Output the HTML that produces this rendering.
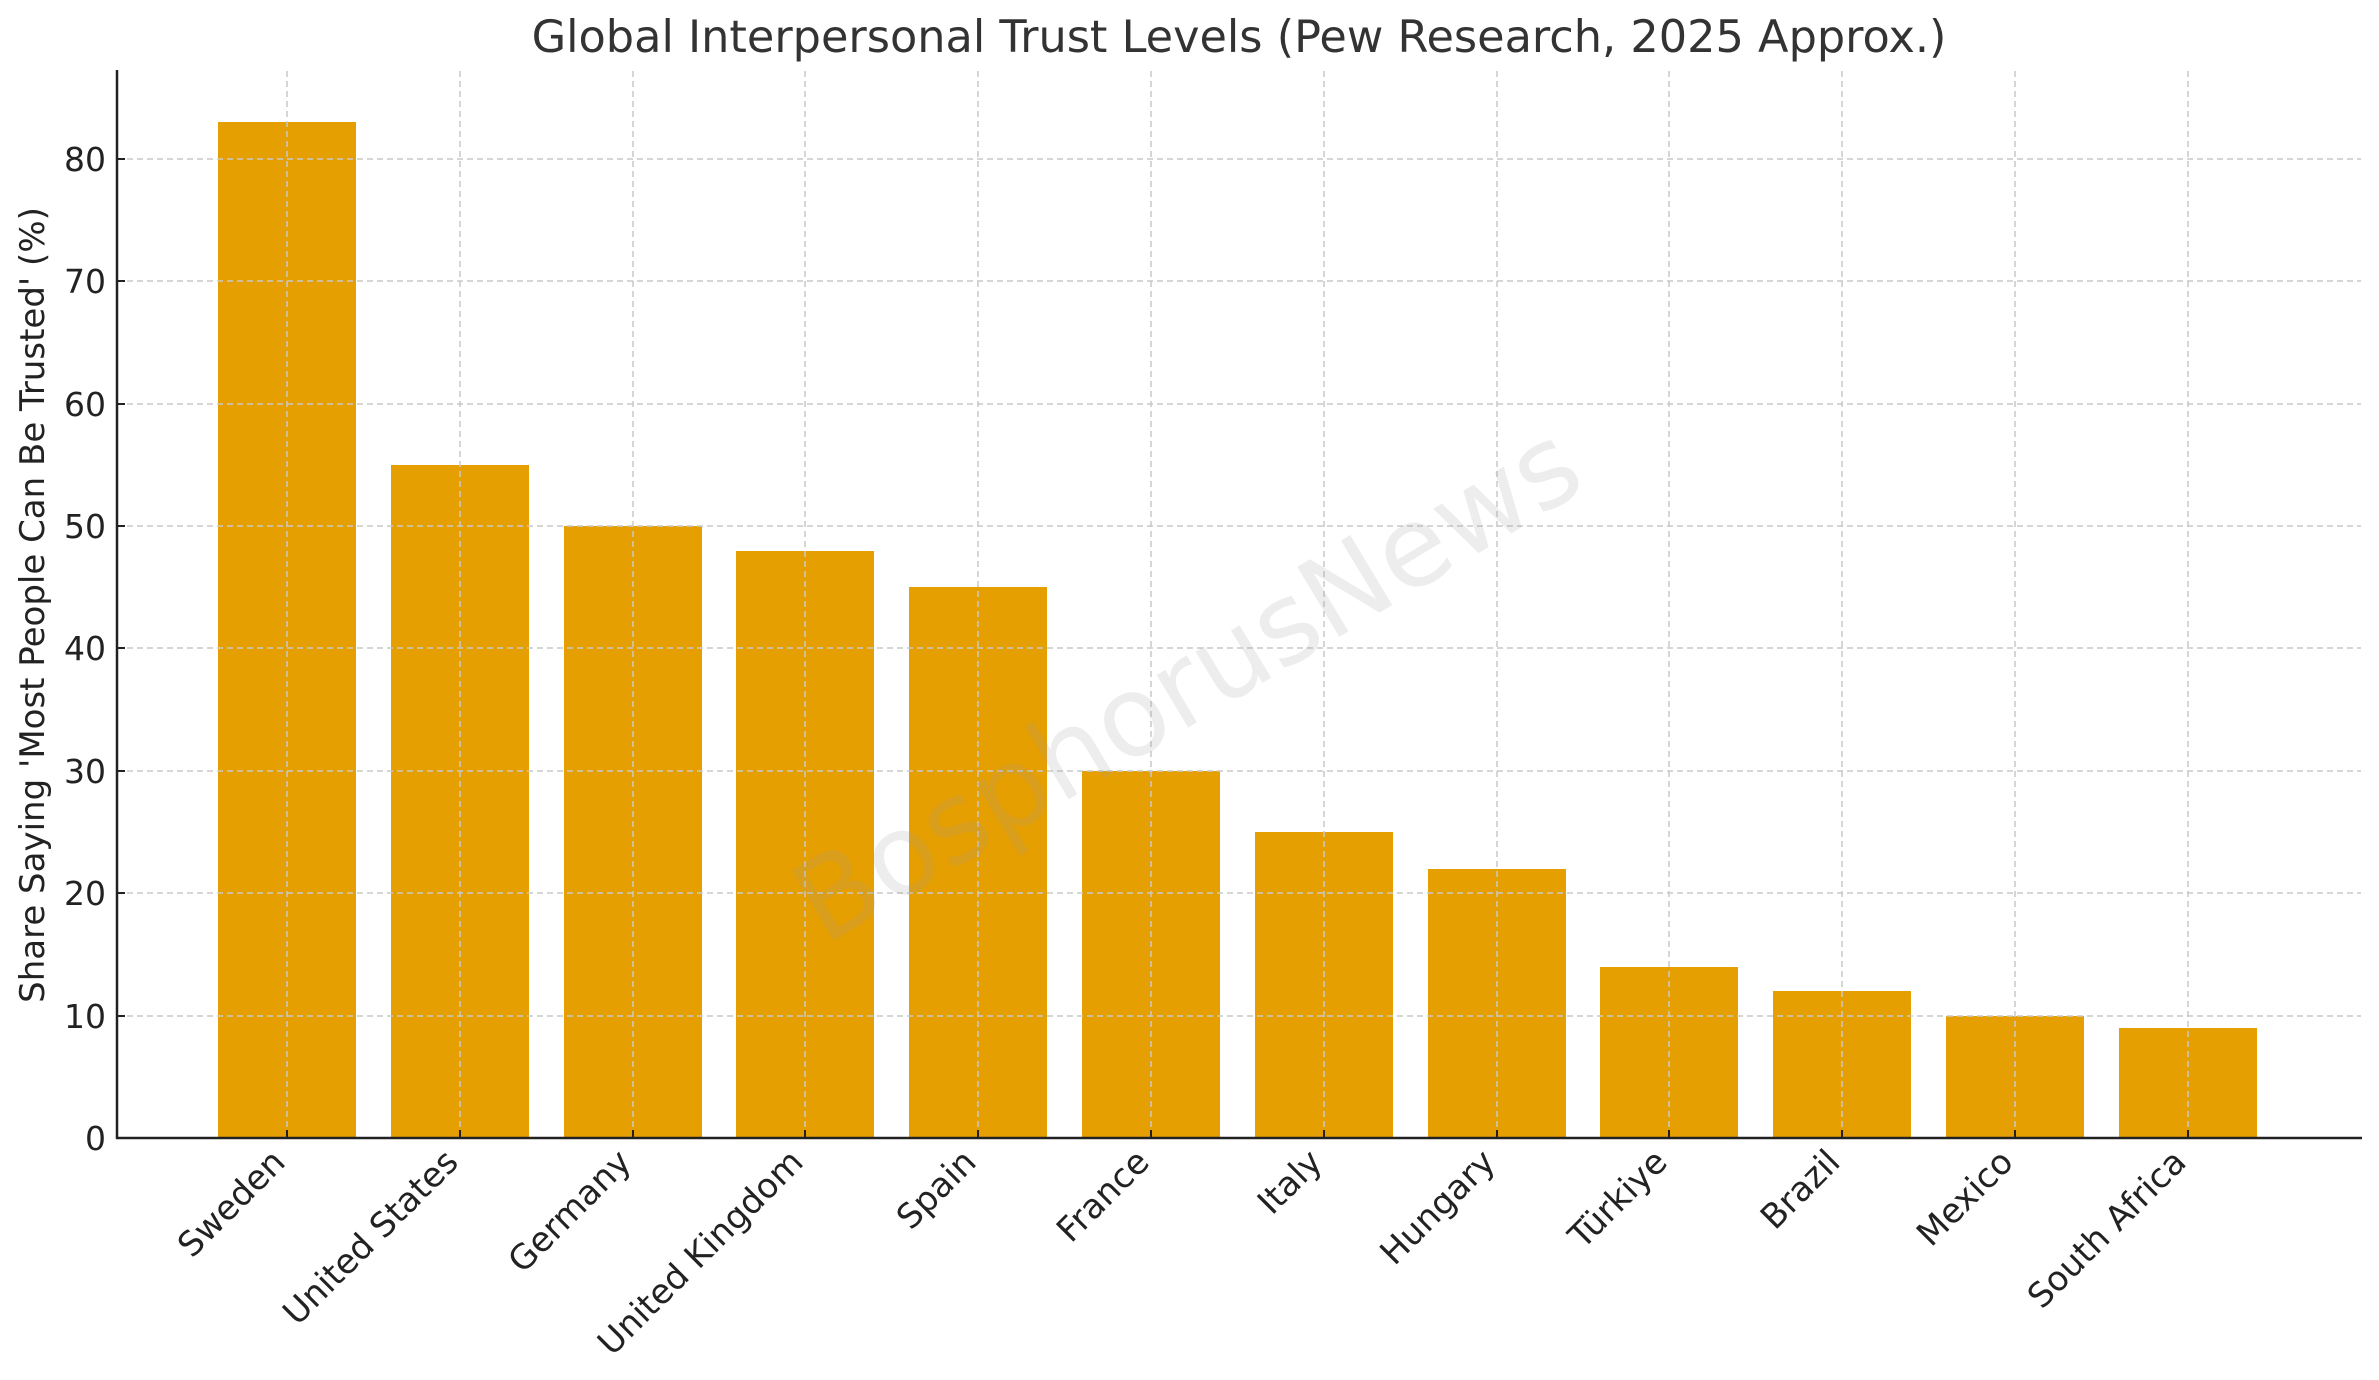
<!DOCTYPE html>
<html><head><meta charset="utf-8"><style>html,body{margin:0;padding:0;background:#fff}svg{display:block}</style></head>
<body>
<svg width="2379" height="1380" viewBox="0 0 2379 1380" xmlns="http://www.w3.org/2000/svg" font-family="'DejaVu Sans','Liberation Sans',sans-serif">
<rect width="2379" height="1380" fill="#fff"/>
<text x="1239" y="52" font-size="44.6" fill="#333" text-anchor="middle">Global Interpersonal Trust Levels (Pew Research, 2025 Approx.)</text>
<g fill="#E69F00">
<rect x="218" y="122" width="138" height="1016"/>
<rect x="391" y="465" width="138" height="673"/>
<rect x="564" y="526" width="138" height="612"/>
<rect x="736" y="551" width="138" height="587"/>
<rect x="909" y="587" width="138" height="551"/>
<rect x="1082" y="771" width="138" height="367"/>
<rect x="1255" y="832" width="138" height="306"/>
<rect x="1428" y="869" width="138" height="269"/>
<rect x="1600" y="967" width="138" height="171"/>
<rect x="1773" y="991" width="138" height="147"/>
<rect x="1946" y="1016" width="138" height="122"/>
<rect x="2119" y="1028" width="138" height="110"/>
</g>
<g stroke="#c8c8c8" stroke-width="1.5" stroke-dasharray="6,4">
<line x1="117" x2="2361" y1="1016" y2="1016"/>
<line x1="117" x2="2361" y1="893" y2="893"/>
<line x1="117" x2="2361" y1="771" y2="771"/>
<line x1="117" x2="2361" y1="648" y2="648"/>
<line x1="117" x2="2361" y1="526" y2="526"/>
<line x1="117" x2="2361" y1="404" y2="404"/>
<line x1="117" x2="2361" y1="281" y2="281"/>
<line x1="117" x2="2361" y1="159" y2="159"/>
<line x1="287" x2="287" y1="71" y2="1138"/>
<line x1="460" x2="460" y1="71" y2="1138"/>
<line x1="633" x2="633" y1="71" y2="1138"/>
<line x1="805" x2="805" y1="71" y2="1138"/>
<line x1="978" x2="978" y1="71" y2="1138"/>
<line x1="1151" x2="1151" y1="71" y2="1138"/>
<line x1="1324" x2="1324" y1="71" y2="1138"/>
<line x1="1497" x2="1497" y1="71" y2="1138"/>
<line x1="1669" x2="1669" y1="71" y2="1138"/>
<line x1="1842" x2="1842" y1="71" y2="1138"/>
<line x1="2015" x2="2015" y1="71" y2="1138"/>
<line x1="2188" x2="2188" y1="71" y2="1138"/>
</g>
<text x="0" y="0" transform="translate(1191,690) rotate(-31)" font-size="112" fill="#999" fill-opacity="0.18" text-anchor="middle" dominant-baseline="middle">BosphorusNews</text>
<g stroke="#222" stroke-width="2.5">
<line x1="117" y1="70" x2="117" y2="1139"/>
<line x1="116" y1="1138" x2="2362" y2="1138"/>
</g>
<g stroke="#222" stroke-width="2">
<line x1="117" x2="125" y1="1138" y2="1138"/>
<line x1="117" x2="125" y1="1016" y2="1016"/>
<line x1="117" x2="125" y1="893" y2="893"/>
<line x1="117" x2="125" y1="771" y2="771"/>
<line x1="117" x2="125" y1="648" y2="648"/>
<line x1="117" x2="125" y1="526" y2="526"/>
<line x1="117" x2="125" y1="404" y2="404"/>
<line x1="117" x2="125" y1="281" y2="281"/>
<line x1="117" x2="125" y1="159" y2="159"/>
<line x1="287" x2="287" y1="1130" y2="1138"/>
<line x1="460" x2="460" y1="1130" y2="1138"/>
<line x1="633" x2="633" y1="1130" y2="1138"/>
<line x1="805" x2="805" y1="1130" y2="1138"/>
<line x1="978" x2="978" y1="1130" y2="1138"/>
<line x1="1151" x2="1151" y1="1130" y2="1138"/>
<line x1="1324" x2="1324" y1="1130" y2="1138"/>
<line x1="1497" x2="1497" y1="1130" y2="1138"/>
<line x1="1669" x2="1669" y1="1130" y2="1138"/>
<line x1="1842" x2="1842" y1="1130" y2="1138"/>
<line x1="2015" x2="2015" y1="1130" y2="1138"/>
<line x1="2188" x2="2188" y1="1130" y2="1138"/>
</g>
<g font-size="33" fill="#222" text-anchor="end">
<text x="106" y="1150">0</text>
<text x="106" y="1028">10</text>
<text x="106" y="905">20</text>
<text x="106" y="783">30</text>
<text x="106" y="660">40</text>
<text x="106" y="538">50</text>
<text x="106" y="416">60</text>
<text x="106" y="293">70</text>
<text x="106" y="171">80</text>
</g>
<text transform="translate(44,605) rotate(-90)" font-size="34" fill="#222" text-anchor="middle">Share Saying 'Most People Can Be Trusted' (%)</text>
<g font-size="34" fill="#222" text-anchor="end">
<text transform="translate(287,1164) rotate(-45)">Sweden</text>
<text transform="translate(460,1164) rotate(-45)">United States</text>
<text transform="translate(633,1164) rotate(-45)">Germany</text>
<text transform="translate(805,1164) rotate(-45)">United Kingdom</text>
<text transform="translate(978,1164) rotate(-45)">Spain</text>
<text transform="translate(1151,1164) rotate(-45)">France</text>
<text transform="translate(1324,1164) rotate(-45)">Italy</text>
<text transform="translate(1497,1164) rotate(-45)">Hungary</text>
<text transform="translate(1669,1164) rotate(-45)">Türkiye</text>
<text transform="translate(1842,1164) rotate(-45)">Brazil</text>
<text transform="translate(2015,1164) rotate(-45)">Mexico</text>
<text transform="translate(2188,1164) rotate(-45)">South Africa</text>
</g>
</svg>
</body></html>
